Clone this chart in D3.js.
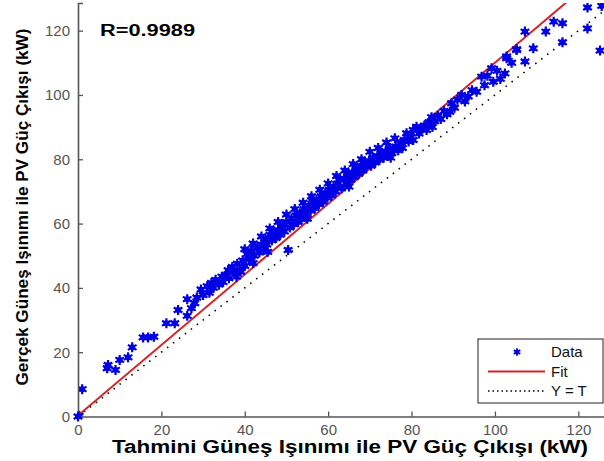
<!DOCTYPE html>
<html>
<head>
<meta charset="utf-8">
<script src="https://cdn.jsdelivr.net/npm/d3@7"></script>
<style>
  body { margin: 0; background: #fff; }
  svg { display: block; font-family: "Liberation Sans", Arial, sans-serif; }
</style>
</head>
<body>
<svg class="regression" width="604" height="461"></svg>
<script>
// predicted (x) and actual (y) PV power, kW
let predicted = [0, 0.3, 1, 7, 7.2, 9, 10, 12, 13, 15.6, 16.8, 18.2, 21.2, 23.2, 24, 26.2, 26.2, 27.2, 28, 28.5, 29.5, 30, 31, 31.5, 32,
  32.5, 33, 33.8, 34.5, 34.8, 35.5, 36, 36.2, 37, 37.5, 38, 38.2, 38.8, 39.5, 40, 40.5, 41, 41.5, 42, 42.3, 43, 43.5, 44, 44.5, 45, 45.3,
  46, 46.5, 47, 47.5, 48, 48.5, 49, 49.5, 50, 50.4, 50.8, 51.2, 51.8, 52.3, 52.8, 53.2, 53.6, 54.2, 54.8, 55.3, 55.8, 56.3, 56.8, 57.2,
  57.8, 58.3, 58.8, 59.3, 59.8, 60.3, 60.8, 61.3, 61.8, 62.3, 62.8, 63.2, 63.8, 64.3, 64.8, 65.3, 65.8, 66.3, 66.8, 67.3, 67.8, 68.3,
  68.8, 69.2, 69.8, 70.3, 70.8, 71.3, 71.8, 72.3, 72.8, 73.3, 73.8, 74.3, 74.8, 75.3, 75.6, 76.2, 76.8, 77.3, 77.8, 78.3, 78.8, 79.3,
  79.8, 80.4, 80.4, 81.2, 81.8, 82.5, 83.1, 83.6, 84.2, 84.8, 85.5, 86.3, 87, 87.8, 88.5, 89.2, 89.6, 90.3, 91, 92, 92.8, 93.6, 94.5,
  95.6, 96.8, 97.5, 98.2, 99.2, 99.6, 100.5, 101.3, 102.4, 102.8, 102.8, 104, 105.2, 105.2,
  107.2, 109.2, 107.2, 112.2, 114.1, 116.2, 116.2, 122.2, 122.2, 125.2, 125.6,
  40, 42, 44, 46, 48, 50, 52, 54, 56, 58, 60, 62, 64, 66, 68, 70, 72, 74, 76, 55, 65, 75, 85, 39, 45.5];
let actual = [0, 0.2, 8.5, 15, 16, 14.5, 17.6, 18.4, 21.5, 24.6, 24.6, 24.8, 29, 29, 33.1, 36.5, 31.3, 33.7, 35.2, 37, 39.5, 37.8, 40.5, 38.5, 41.5,
  40, 42.5, 41, 43.5, 41.8, 44, 45.5, 43, 46.5, 44.8, 43.5, 47.5, 45.5, 48.5, 46.8, 50.5, 49, 51.5, 47.7, 50, 52.5, 51, 53.5, 52, 55, 53.5,
  56.5, 54.8, 57.5, 55.5, 58, 56.5, 59.5, 57.5, 60.5, 51.8, 58.8, 61.5, 59.8, 62.5, 60.5, 63.2, 61.5, 64.5, 62.8, 65.5, 64, 66.8, 64.8, 67.3,
  66, 68.5, 66.8, 69.5, 68, 70.5, 68.8, 71.5, 70, 72.5, 73.6, 71, 74, 72.5, 75.2, 73.5, 76, 74.5, 77, 75.5, 78, 76.5,
  78.8, 77.7, 79.5, 78, 80.5, 79, 81, 79.8, 82, 80.5, 82.5, 81, 83.5, 82, 82.9, 84, 82.8, 85, 83.5, 86, 88.1, 85.5,
  87, 89.1, 86, 90.1, 88, 89.5, 90.5, 89.1, 91.5, 93.1, 91.8, 93.5, 92.5, 95, 94, 94.8, 97.4, 96, 98.5, 100, 98, 99.5, 101.5,
  101, 105.7, 103, 106, 108.3, 104.1, 107.5, 105, 106.7, 111.4, 112, 110, 114, 114.2,
  119.7, 114.5, 110.4, 119.7, 122.8, 122.3, 116.4, 127.2, 120.7, 113.8, 127.7,
  52, 53.8, 56, 58.5, 60.5, 62.8, 64.5, 66.5, 68.5, 70.5, 72.5, 74.8, 76.5, 78.5, 80, 82.3, 83.5, 85.2, 86.5, 61.5, 71.5, 80.5, 90, 45, 51.2];
let fitSlope = 1.097;
let fitIntercept = 0.3;
let rText = "R=0.9989";
let xTicks = [0, 20, 40, 60, 80, 100, 120];
let yTicks = [0, 20, 40, 60, 80, 100, 120];
let legendLabels = ["Data", "Fit", "Y = T"];

let data = predicted.map((p, i) => ({x: p, y: actual[i]}));

let svg = d3.select("body").select(".regression");
let margin = {top: 3, right: 0, bottom: 44.5, left: 78};
let width = 605, height = 461;

let x = d3.scaleLinear().domain([0, 126.4]).range([margin.left, width]);
let y = d3.scaleLinear().domain([0, 128.6]).range([height - margin.bottom, margin.top]);

svg.append("defs").append("clipPath").attr("id", "clip")
  .append("rect")
  .attr("x", margin.left).attr("y", margin.top)
  .attr("width", width - margin.left).attr("height", y(0) - margin.top);

let plot = svg.append("g").attr("clip-path", "url(#clip)");

// Y = T dotted line
plot.append("line")
  .attr("x1", x(0)).attr("y1", y(0))
  .attr("x2", x(130)).attr("y2", y(130))
  .attr("stroke", "#000").attr("stroke-width", 1.6)
  .attr("stroke-dasharray", "1.5,6");

// fit line
plot.append("line")
  .attr("x1", x(0)).attr("y1", y(fitIntercept))
  .attr("x2", x(130)).attr("y2", y(fitSlope * 130 + fitIntercept))
  .attr("stroke", "#d42323").attr("stroke-width", 2);

let star = d3.symbol().type(d3.symbolAsterisk).size(70);
let blue = "#0000e6";

let pts = plot.selectAll(".pt").data(data).enter().append("g")
  .attr("class", "pt")
  .attr("transform", d => translate(x(d.x), y(d.y)));
pts.append("circle").attr("r", 3).attr("fill", blue);
pts.append("path").attr("d", star).attr("fill", "none")
  .attr("stroke", blue).attr("stroke-width", 2.2);

// axes (MATLAB style, inward ticks)
let axisColor = "#555";
let xAxis = d3.axisBottom(x).tickValues(xTicks).tickSize(-5).tickPadding(8);
let yAxis = d3.axisLeft(y).tickValues(yTicks).tickSize(-5).tickPadding(8);

let xGroup = svg.append("g").attr("transform", translate(0, y(0))).call(xAxis);
let yGroup = svg.append("g").attr("transform", translate(x(0), 0)).call(yAxis);
[xGroup, yGroup].forEach(g => {
  g.select(".domain").attr("stroke", axisColor).attr("stroke-width", 1.6);
  g.selectAll(".tick line").attr("stroke", axisColor).attr("stroke-width", 1.3);
  g.selectAll(".tick text").attr("fill", "#555").style("font-size", "15px");
});

// data marker at origin drawn on top of axes
svg.append("g").attr("transform", translate(x(0), y(0)))
  .call(g => {
    g.append("circle").attr("r", 3).attr("fill", blue);
    g.append("path").attr("d", star).attr("fill", "none").attr("stroke", blue).attr("stroke-width", 2.2);
  });

// axis labels
svg.append("text")
  .attr("x", 350).attr("y", 453)
  .attr("text-anchor", "middle")
  .attr("textLength", 476).attr("lengthAdjust", "spacingAndGlyphs")
  .style("font-size", "18px").style("font-weight", "bold")
  .text("Tahmini Güneş Işınımı ile PV Güç Çıkışı (kW)");

svg.append("text")
  .attr("transform", translate(28, 207) + " rotate(-90)")
  .attr("text-anchor", "middle")
  .attr("textLength", 357).attr("lengthAdjust", "spacingAndGlyphs")
  .style("font-size", "17px").style("font-weight", "bold")
  .text("Gerçek Güneş Işınımı ile PV Güç Çıkışı (kW)");

svg.append("text")
  .attr("x", 100).attr("y", 36)
  .attr("textLength", 95).attr("lengthAdjust", "spacingAndGlyphs")
  .style("font-size", "16px").style("font-weight", "bold")
  .text(rText);

// legend
let legend = svg.append("g").attr("transform", translate(478, 339));
legend.append("rect").attr("width", 125).attr("height", 64)
  .attr("fill", "#fff").attr("stroke", "#222").attr("stroke-width", 1);
legendLabels.forEach((lab, i) => {
  let ly = 13 + i * 19.5;
  if (i === 0) {
    let m = legend.append("g").attr("transform", translate(39, ly));
    m.append("circle").attr("r", 2.2).attr("fill", blue);
    m.append("path").attr("d", d3.symbol().type(d3.symbolAsterisk).size(40)).attr("fill", "none")
      .attr("stroke", blue).attr("stroke-width", 1.8);
  } else {
    legend.append("line").attr("x1", 10).attr("x2", 67).attr("y1", ly).attr("y2", ly)
      .attr("stroke", i === 1 ? "#d42323" : "#000")
      .attr("stroke-width", i === 1 ? 2 : 1.4)
      .attr("stroke-dasharray", i === 1 ? null : "1.5,3");
  }
  legend.append("text").attr("x", 73).attr("y", ly + 5)
    .style("font-size", "15px").attr("fill", "#111")
    .text(lab);
});

function translate(x, y) {
  return 'translate(' + x + ',' + y + ')';
}
</script>
</body>
</html>
